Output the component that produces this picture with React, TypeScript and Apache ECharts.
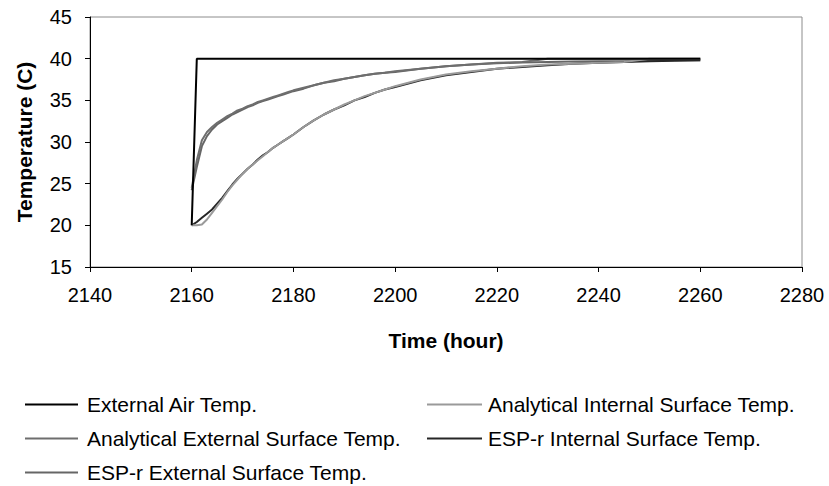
import React, { useEffect, useRef } from "react";
import * as echarts from "echarts";

const hours = [
  2160, 2161, 2162, 2163, 2164, 2165, 2166, 2167, 2168, 2169, 2170, 2171, 2172, 2173, 2174, 2175, 2176, 2177, 2178, 2179, 2180,
  2182, 2184, 2186, 2188, 2190, 2192, 2194, 2196, 2198, 2200,
  2205, 2210, 2215, 2220, 2225, 2230, 2235, 2240, 2245, 2250, 2255, 2260,
];

const externalAir = [
  20, 40, 40, 40, 40, 40, 40, 40, 40, 40, 40, 40, 40, 40, 40, 40, 40, 40, 40, 40, 40,
  40, 40, 40, 40, 40, 40, 40, 40, 40, 40,
  40, 40, 40, 40, 40, 40, 40, 40, 40, 40, 40, 40,
];

const analyticalInternal = [
  20, 20.0, 20.1, 20.7, 21.5, 22.3, 23.1, 24.0, 24.8, 25.5, 26.2, 26.8, 27.3, 27.8, 28.3, 28.8, 29.3, 29.7, 30.1, 30.5, 30.9,
  31.8, 32.6, 33.3, 33.9, 34.5, 35.0, 35.5, 35.9, 36.3, 36.7,
  37.5, 38.1, 38.5, 38.8, 39.1, 39.3, 39.4, 39.5, 39.6, 40.0, 40.0, 40.0,
];

const analyticalExternal = [
  24.5, 27.8, 30.2, 31.2, 31.8, 32.3, 32.7, 33.1, 33.4, 33.8, 34.0, 34.3, 34.5, 34.8, 35.0, 35.2, 35.4, 35.6, 35.8, 36.0, 36.2,
  36.5, 36.8, 37.1, 37.4, 37.6, 37.8, 38.0, 38.2, 38.3, 38.5,
  38.8, 39.1, 39.3, 39.5, 39.6, 40.0, 40.0, 40.0, 40.0, 40.0, 40.0, 40.0,
];

const esprInternal = [
  20, 20.4, 20.9, 21.4, 21.9, 22.6, 23.3, 24.1, 24.9, 25.6, 26.2, 26.8, 27.3, 27.9, 28.4, 28.8, 29.3, 29.7, 30.1, 30.5, 30.9,
  31.8, 32.6, 33.3, 33.9, 34.4, 35.0, 35.4, 35.9, 36.3, 36.6,
  37.4, 38.0, 38.4, 38.8, 39.0, 39.2, 39.4, 39.5, 39.6, 39.7, 39.75, 39.8,
];

const esprExternal = [
  24.2, 27.0, 29.5, 30.7, 31.5, 32.1, 32.5, 32.9, 33.3, 33.6, 33.9, 34.2, 34.4, 34.7, 34.9, 35.1, 35.3, 35.5, 35.7, 35.9, 36.1,
  36.4, 36.8, 37.1, 37.3, 37.6, 37.8, 38.0, 38.2, 38.3, 38.4,
  38.8, 39.1, 39.3, 39.45, 39.55, 39.6, 39.65, 39.7, 39.7, 39.75, 39.8, 39.8,
];

const seriesNames = [
  "External Air Temp.",
  "Analytical Internal Surface Temp.",
  "Analytical External Surface Temp.",
  "ESP-r Internal Surface Temp.",
  "ESP-r External Surface Temp.",
];
const seriesColors = ["#000000", "#9a9a9a", "#6e6e6e", "#262626", "#666666"];
const seriesValues = [externalAir, analyticalInternal, analyticalExternal, esprInternal, esprExternal];

const FONT = "'Liberation Sans', Arial, sans-serif";

export default function App() {
  const ref = useRef<HTMLDivElement>(null);
  useEffect(() => {
    if (!ref.current) return;
    const chart = echarts.init(ref.current, undefined, { renderer: "svg" });
    const legendBase = {
      orient: "vertical",
      top: 394,
      height: 100,
      padding: 0,
      icon: "rect",
      itemHeight: 2,
      itemGap: 13,
    };
    chart.setOption({
      animation: false,
      backgroundColor: "#ffffff",
      grid: {
        left: 90,
        right: 27,
        top: 17,
        bottom: 219,
        show: true,
        borderColor: "#8c8c8c",
        borderWidth: 1,
      },
      xAxis: {
        type: "value",
        min: 2140,
        max: 2280,
        interval: 20,
        name: "Time (hour)",
        nameLocation: "middle",
        nameGap: 63,
        nameTextStyle: { fontFamily: FONT, fontSize: 21, fontWeight: "bold", color: "#000" },
        axisLine: { lineStyle: { color: "#000", width: 1 } },
        axisTick: { show: true, length: 5, lineStyle: { color: "#000" } },
        axisLabel: {
          fontFamily: FONT,
          fontSize: 20,
          color: "#000",
          margin: 18,
          formatter: (v: number) => String(v),
        },
        splitLine: { show: false },
      },
      yAxis: {
        type: "value",
        min: 15,
        max: 45,
        interval: 5,
        name: "Temperature (C)",
        nameLocation: "middle",
        nameGap: 55,
        nameTextStyle: { fontFamily: FONT, fontSize: 21, fontWeight: "bold", color: "#000" },
        axisLine: { show: true, lineStyle: { color: "#000", width: 1 } },
        axisTick: { show: true, length: 5, lineStyle: { color: "#000" } },
        axisLabel: { fontFamily: FONT, fontSize: 20, color: "#000", margin: 18 },
        splitLine: { show: false },
      },
      legend: [
        {
          ...legendBase,
          data: [seriesNames[0], seriesNames[2], seriesNames[4]],
          left: 25,
          itemWidth: 53,
          textStyle: { fontFamily: FONT, fontSize: 21, color: "#000", padding: [0, 0, 0, 4] },
        },
        {
          ...legendBase,
          data: [seriesNames[1], seriesNames[3]],
          left: 427,
          itemWidth: 55,
          textStyle: { fontFamily: FONT, fontSize: 21, color: "#000", padding: [0, 0, 0, 1] },
        },
      ],
      series: seriesNames.map((name, i) => ({
        name,
        type: "line",
        data: hours.map((h, k) => [h, seriesValues[i][k]]),
        showSymbol: false,
        symbol: "none",
        lineStyle: { color: seriesColors[i], width: 2 },
        itemStyle: { color: seriesColors[i] },
        z: 10 - i,
      })),
    });
    return () => chart.dispose();
  }, []);
  return <div ref={ref} style={{ width: 829, height: 486, position: "absolute", left: 0, top: 0 }} />;
}
